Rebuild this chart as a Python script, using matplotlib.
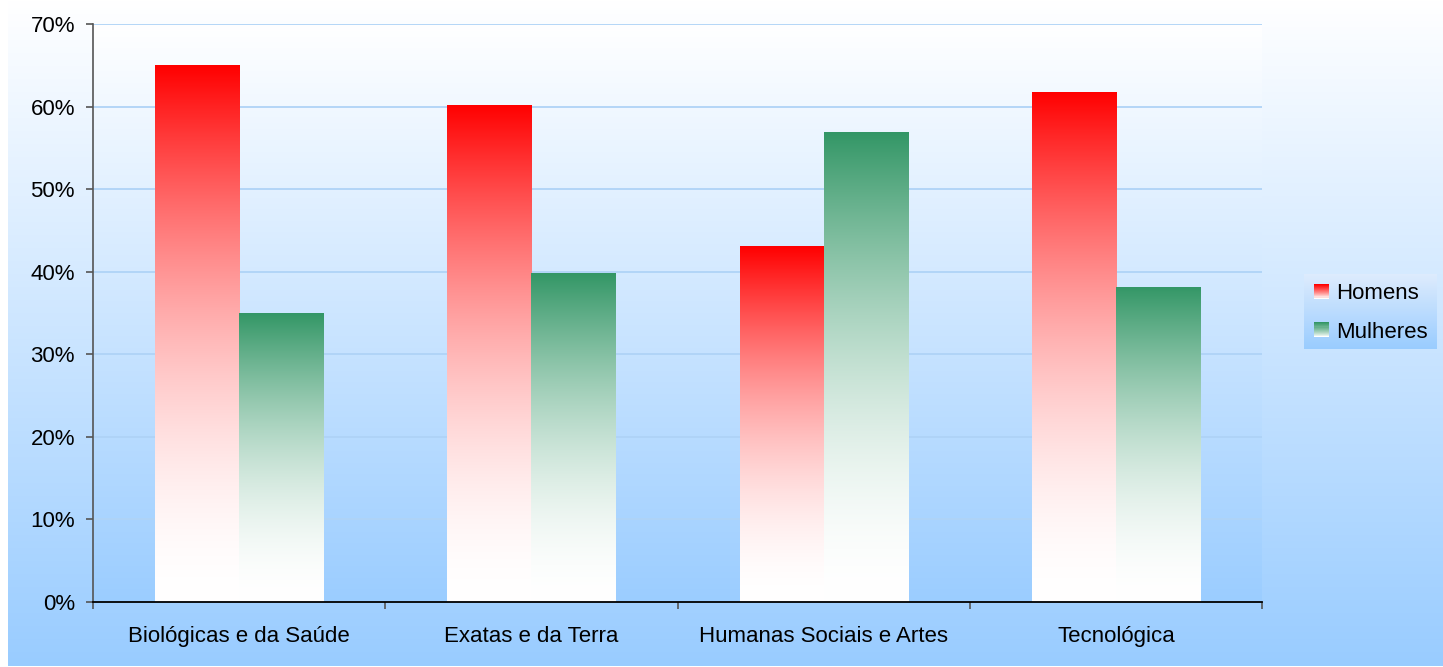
import numpy as np
import matplotlib.pyplot as plt
from matplotlib.patches import Rectangle
from matplotlib.legend_handler import HandlerBase

categories = ["Biológicas e da Saúde", "Exatas e da Terra", "Humanas Sociais e Artes", "Tecnológica"]
homens = [65.0, 60.2, 43.1, 61.8]
mulheres = [35.0, 39.8, 56.9, 38.2]
series_names = ["Homens", "Mulheres"]
yticks = [0, 10, 20, 30, 40, 50, 60, 70]

plt.rcParams["font.family"] = ["Liberation Sans", "DejaVu Sans"]

W, H = 1443, 667
fig = plt.figure(figsize=(W / 100, H / 100), dpi=100)
fig.patch.set_facecolor("white")

RED = np.array([1.0, 0.0, 0.0])
GREEN = np.array([0.20, 0.59, 0.40])
WHITE = np.array([1.0, 1.0, 1.0])
LIGHT = np.array([1.0, 1.0, 1.0])
BLUE = np.array([153, 204, 255]) / 255


def vgrad(top, bottom, n=256, power=1.0):
    # rows go top -> bottom
    t = np.linspace(0, 1, n) ** power
    col = top[None, :] * (1 - t[:, None]) + bottom[None, :] * t[:, None]
    return col[:, None, :]


# background layer in pixel coordinates (y measured from the bottom)
bg = fig.add_axes([0, 0, 1, 1], zorder=-5)
bg.axis("off")
bg.imshow(vgrad(LIGHT, BLUE), extent=[8, W, 1, H], aspect="auto", interpolation="bilinear")
# plot area
bg.imshow(vgrad(LIGHT, np.array([155, 205, 255]) / 255), extent=[93, 1262, H - 602, H - 24],
          aspect="auto", interpolation="bilinear")
# legend box
bg.imshow(vgrad(np.array([222, 236, 253]) / 255, np.array([153, 204, 255]) / 255),
          extent=[1304, 1437, H - 349, H - 274], aspect="auto", interpolation="bilinear")
bg.set_xlim(0, W)
bg.set_ylim(0, H)

ax = fig.add_axes([93 / W, (H - 602) / H, (1262 - 93) / W, (602 - 24) / H])
ax.set_facecolor("none")

x = np.arange(len(categories))
w = 0.2875


def gradient_bars(xpos, vals, color):
    bars = ax.bar(xpos, vals, width=w, facecolor="none", edgecolor="none", zorder=3)
    for b in bars:
        x0, h = b.get_x(), b.get_height()
        # colour goes from full at top to white at the base, eased
        t = np.linspace(0, 1, 512)[:, None]
        mix = (1 - t) ** 1.8
        img = WHITE[None, :] * (1 - mix) + color[None, :] * mix
        im = ax.imshow(img[:, None, :], extent=[x0, x0 + b.get_width(), 0, h],
                       aspect="auto", interpolation="bicubic", zorder=3)
        im.set_clip_path(b)
    return bars


gradient_bars(x - w / 2, homens, RED)
gradient_bars(x + w / 2, mulheres, GREEN)

ax.set_xlim(-0.5, len(categories) - 0.5)
ax.set_ylim(0, 70)
ax.set_yticks(yticks)
ax.set_yticklabels([f"{v}%" for v in yticks], fontsize=16)
ax.yaxis.grid(True, color="#AFD3F7", linewidth=1.3, zorder=1)
ax.set_axisbelow(True)

ax.set_xticks(np.arange(len(categories) + 1) - 0.5)
ax.set_xticklabels([])
ax.set_xticks(x, minor=True)
ax.set_xticklabels(categories, minor=True, fontsize=16)
ax.tick_params(axis="x", which="minor", length=0, pad=17.5)
ax.tick_params(axis="x", which="major", length=5, width=1.2, color="#555555", direction="out")
ax.tick_params(axis="y", length=5, width=1.2, color="#555555", direction="out", pad=8)

for s in ["top", "right"]:
    ax.spines[s].set_visible(False)
ax.spines["left"].set_color("#555555")
ax.spines["left"].set_linewidth(1.2)
ax.spines["bottom"].set_color("black")
ax.spines["bottom"].set_linewidth(1.3)
ax.spines["bottom"].set_zorder(5)


class GradHandler(HandlerBase):
    def __init__(self, color):
        super().__init__()
        self.color = color

    def create_artists(self, legend, orig, xd, yd, width, height, fontsize, trans):
        arts = []
        n = 14
        size = 10.5
        x0 = xd + (width - size) / 2
        y0 = yd + (height - size) / 2
        for i in range(n):
            t = i / (n - 1)
            c = self.color * (1 - t) ** 0.8 + WHITE * (1 - (1 - t) ** 0.8)
            r = Rectangle((x0, y0 + size * (1 - (i + 1) / n)), size, size / n + 0.2,
                          facecolor=c, edgecolor="none", transform=trans)
            arts.append(r)
        return arts


h1 = Rectangle((0, 0), 1, 1)
h2 = Rectangle((0, 0), 1, 1)
leg = fig.legend([h1, h2], series_names, loc="center left",
                 bbox_to_anchor=(1313 / W, (H - 313) / H), frameon=False, fontsize=16,
                 handler_map={h1: GradHandler(RED), h2: GradHandler(GREEN)},
                 handlelength=0.75, handletextpad=0.3, labelspacing=0.78, borderaxespad=0,
                 borderpad=0)

fig.savefig("out.png", dpi=100)
